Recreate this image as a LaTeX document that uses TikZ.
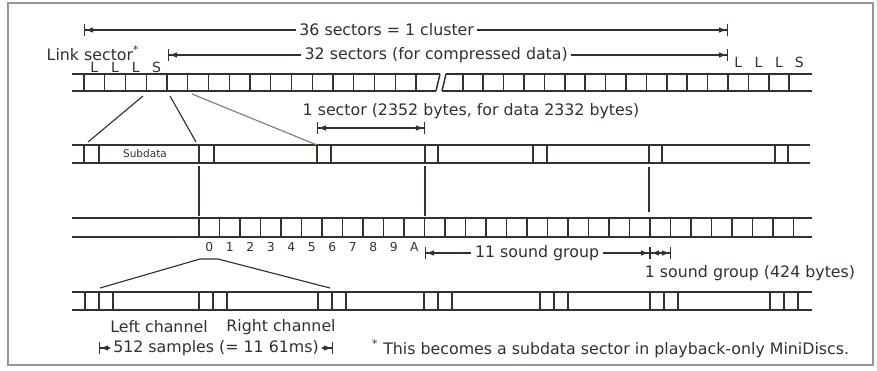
\documentclass[tikz,border=0pt]{standalone}
\usepackage{fontspec}
\setmainfont{DejaVu Sans}
\usetikzlibrary{arrows.meta}
\definecolor{cInk}{RGB}{50,50,40}
\definecolor{cFrame}{RGB}{150,150,150}
\definecolor{cGrey}{RGB}{125,125,125}
\tikzset{
	bar/.style     ={draw=cInk, line width=0.85pt},
	tick/.style    ={draw=cInk, line width=0.85pt},
	link/.style    ={draw=cInk, line width=0.65pt},
	dimline/.style ={cInk, line width=0.65pt, {Bar[width=6.5pt]Latex[length=4.5pt,width=3.2pt]}-{Latex[length=4.5pt,width=3.2pt]Bar[width=6.5pt]}},
	lbl/.style     ={text=cInk, inner sep=1pt},
	onlbl/.style   ={lbl, fill=white, inner sep=2pt},
	small/.style   ={lbl, font=\fontsize{6}{7}\selectfont},
	digit/.style   ={lbl, font=\fontsize{7}{8}\selectfont},
	lls/.style     ={lbl, font=\fontsize{8}{9}\selectfont},
}
\begin{document}
\begin{tikzpicture}[font=\fontsize{9}{10}\selectfont, x=0.02cm, y=-0.02cm]
	\useasboundingbox (0,0) rectangle (877,370);
	\draw[cFrame, line width=1.2pt] (8,3) rectangle (873,365);
	% cluster of sectors, with the break
	\draw[bar] (72,74) -- (440,74) (72,91) -- (436,91) (446,74) -- (812,74) (442,91) -- (812,91);
	\draw[tick] (436,91) -- (440,74) (442,91) -- (446,74);
	\foreach \i in {0,...,16} \draw[tick] ({84+20.75*\i},74) -- ++(0,17);
	\foreach \i in {0,...,16} \draw[tick] ({462.8+20.4*\i},74) -- ++(0,17);
	\foreach \t [count=\i from 0] in {L,L,L,S} {
		\node[lls] (ll\i) at ({94.4+20.75*\i},67) {\t};
		\node[lls] (lr\i) at ({738.2+20.4*\i},62) {\t};
	}
	\node[lbl] (linksec) at (93,53) {Link sector\textsuperscript{*}};
	\draw[dimline] (84,30) -- node[onlbl, pos=0.47] (cluster) {36 sectors = 1 cluster} (728,30);
	\draw[dimline] (168,55) -- node[onlbl, pos=0.479] (data32) {32 sectors (for compressed data)} (728,55);
	% one sector
	\draw[bar] (72,145) -- (810,145) (72,163) -- (810,163);
	\foreach \x in {84,99,199,214,317,331,425,438,533,547,649,662,775,788} \draw[tick] (\x,145) -- (\x,163);
	\node[small] (subdata) at (145,154) {Subdata};
	\draw[link] (143,96) -- (88,142) (170,96) -- (196,142);
	\draw[cGrey, line width=0.65pt] (192,94) -- (317,145);
	\draw[dimline] (317,128) -- (425,128);
	\node[lbl] (sector) at (471,111) {1 sector (2352 bytes, for data 2332 bytes)};
	% sound groups
	\draw[link] (199,166) -- (199,216) (425,166) -- (425,216) (649,167) -- (649,212);
	\draw[bar] (72,218) -- (812,218) (72,237) -- (812,237);
	\foreach \i in {0,...,29} \draw[tick] ({199+20.5*\i},218) -- ++(0,19);
	\foreach \d [count=\i from 0] in {0,...,9,A} \node[digit] (g\i) at ({209.25+20.5*\i},247) {\d};
	\draw[dimline] (425,253) -- node[onlbl, pos=0.498] (group11) {11 sound group} (650,253);
	\draw[dimline] (650,253) -- (671,253);
	\node[lbl] (group1) at (750,273) {1 sound group (424 bytes)};
	% channels
	\draw[link] (100,288) -- (200,259) -- (218,259) -- (330,288);
	\draw[bar] (72,292) -- (812,292) (72,310) -- (812,310);
	\foreach \x in {85,199,318,424,540,650,770}
		\foreach \k in {0,1,2} \draw[tick] ({\x+14*\k},292) -- ++(0,18);
	\node[lbl] (left) at (159,327) {Left channel};
	\node[lbl] (right) at (281,327) {Right channel};
	\draw[dimline] (99,348) -- node[onlbl] (samples) {512 samples (= 11 61ms)} (333,348);
	\node[lbl, anchor=west] (note) at (370,349) {\textsuperscript{*} This becomes a subdata sector in playback-only MiniDiscs.};
\end{tikzpicture}
\end{document}
